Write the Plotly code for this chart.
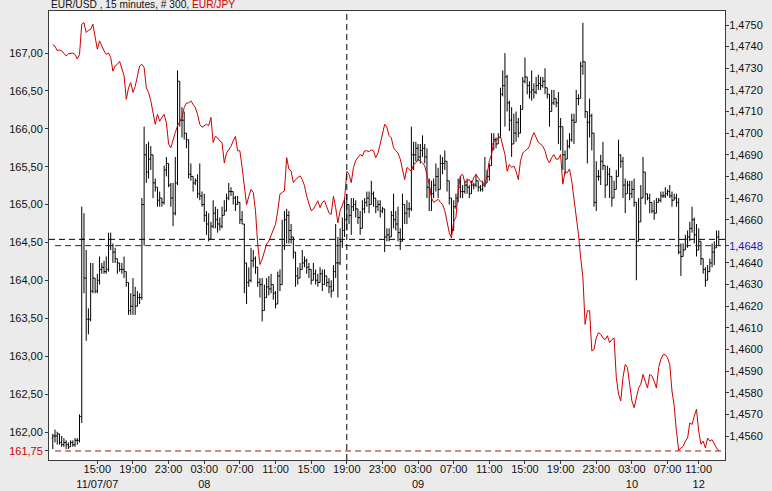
import plotly.graph_objects as go

# ---- EUR/USD 15-minute bars (bar index 0..299) ----
usd_open = [
1.4559,1.4560,1.4560,1.4561,1.4557,1.4556,1.4557,1.4556,1.4555,1.4557,
1.4556,1.4558,1.4558,1.4569,1.4651,1.4633,1.4614,1.4614,1.4627,1.4633,
1.4627,1.4632,1.4637,1.4638,1.4636,1.4637,1.4648,1.4648,1.4645,1.4642,
1.4640,1.4637,1.4637,1.4636,1.4631,1.4618,1.4620,1.4625,1.4620,1.4624,
1.4624,1.4667,1.4690,1.4682,1.4688,1.4690,1.4677,1.4675,1.4669,1.4670,
1.4668,1.4683,1.4686,1.4676,1.4670,1.4663,1.4677,1.4724,1.4706,1.4706,
1.4700,1.4697,1.4681,1.4680,1.4677,1.4678,1.4672,1.4671,1.4667,1.4662,
1.4658,1.4651,1.4657,1.4663,1.4660,1.4658,1.4657,1.4662,1.4664,1.4670,
1.4673,1.4673,1.4670,1.4667,1.4668,1.4660,1.4658,1.4640,1.4631,1.4632,
1.4641,1.4642,1.4638,1.4631,1.4630,1.4618,1.4624,1.4629,1.4628,1.4630,
1.4626,1.4621,1.4634,1.4630,1.4648,1.4660,1.4662,1.4655,1.4652,1.4645,
1.4634,1.4633,1.4637,1.4640,1.4641,1.4638,1.4637,1.4632,1.4635,1.4632,
1.4631,1.4635,1.4630,1.4634,1.4631,1.4629,1.4627,1.4636,1.4640,1.4640,
1.4650,1.4655,1.4660,1.4667,1.4662,1.4666,1.4667,1.4665,1.4661,1.4656,
1.4665,1.4668,1.4670,1.4667,1.4672,1.4670,1.4666,1.4667,1.4664,1.4665,
1.4652,1.4653,1.4652,1.4662,1.4660,1.4658,1.4654,1.4650,1.4667,1.4663,
1.4665,1.4665,1.4690,1.4690,1.4693,1.4689,1.4692,1.4693,1.4689,1.4675,
1.4674,1.4672,1.4676,1.4680,1.4674,1.4686,1.4686,1.4687,1.4678,1.4670,
1.4655,1.4666,1.4670,1.4675,1.4673,1.4673,1.4676,1.4675,1.4672,1.4676,
1.4676,1.4678,1.4675,1.4674,1.4676,1.4677,1.4680,1.4685,1.4695,1.4697,
1.4695,1.4698,1.4718,1.4722,1.4726,1.4714,1.4706,1.4695,1.4700,1.4705,
1.4700,1.4711,1.4724,1.4726,1.4722,1.4719,1.4720,1.4719,1.4722,1.4723,
1.4722,1.4724,1.4721,1.4718,1.4710,1.4714,1.4716,1.4714,1.4703,1.4703,
1.4690,1.4688,1.4694,1.4697,1.4706,1.4705,1.4716,1.4716,1.4731,1.4733,
1.4710,1.4705,1.4708,1.4700,1.4668,1.4680,1.4680,1.4687,1.4685,1.4676,
1.4681,1.4680,1.4670,1.4674,1.4680,1.4690,1.4687,1.4676,1.4672,1.4676,
1.4672,1.4674,1.4668,1.4650,1.4659,1.4670,1.4682,1.4672,1.4670,1.4668,
1.4664,1.4663,1.4668,1.4669,1.4671,1.4671,1.4672,1.4673,1.4671,1.4669,
1.4670,1.4668,1.4645,1.4643,1.4646,1.4651,1.4652,1.4656,1.4660,1.4653,
1.4646,1.4650,1.4642,1.4637,1.4632,1.4636,1.4640,1.4645,1.4647,1.4652]
usd_high = [
1.4561,1.4563,1.4562,1.4561,1.4560,1.4559,1.4558,1.4557,1.4558,1.4558,
1.4559,1.4559,1.4570,1.4666,1.4663,1.4646,1.4619,1.4640,1.4640,1.4633,
1.4635,1.4643,1.4640,1.4641,1.4643,1.4654,1.4654,1.4649,1.4647,1.4642,
1.4640,1.4640,1.4643,1.4636,1.4631,1.4626,1.4633,1.4629,1.4627,1.4626,
1.4670,1.4703,1.4695,1.4696,1.4694,1.4690,1.4679,1.4675,1.4673,1.4670,
1.4685,1.4689,1.4686,1.4677,1.4677,1.4689,1.4729,1.4724,1.4712,1.4710,
1.4700,1.4697,1.4686,1.4680,1.4679,1.4681,1.4686,1.4673,1.4672,1.4664,
1.4663,1.4659,1.4669,1.4666,1.4665,1.4661,1.4666,1.4669,1.4672,1.4677,
1.4675,1.4673,1.4671,1.4671,1.4668,1.4664,1.4658,1.4640,1.4638,1.4647,
1.4646,1.4643,1.4638,1.4633,1.4633,1.4630,1.4633,1.4634,1.4635,1.4630,
1.4627,1.4636,1.4637,1.4660,1.4664,1.4665,1.4664,1.4658,1.4652,1.4645,
1.4638,1.4640,1.4646,1.4643,1.4642,1.4640,1.4637,1.4640,1.4637,1.4635,
1.4638,1.4637,1.4637,1.4634,1.4633,1.4632,1.4639,1.4658,1.4652,1.4656,
1.4661,1.4670,1.4672,1.4667,1.4670,1.4670,1.4669,1.4665,1.4664,1.4669,
1.4670,1.4673,1.4673,1.4678,1.4673,1.4670,1.4669,1.4669,1.4666,1.4665,
1.4656,1.4656,1.4664,1.4672,1.4664,1.4666,1.4656,1.4672,1.4667,1.4669,
1.4668,1.4703,1.4696,1.4696,1.4695,1.4695,1.4699,1.4695,1.4693,1.4679,
1.4678,1.4679,1.4686,1.4684,1.4690,1.4689,1.4692,1.4687,1.4678,1.4670,
1.4669,1.4672,1.4679,1.4680,1.4676,1.4678,1.4679,1.4676,1.4678,1.4677,
1.4681,1.4678,1.4676,1.4678,1.4689,1.4683,1.4686,1.4700,1.4700,1.4698,
1.4700,1.4721,1.4729,1.4737,1.4727,1.4715,1.4712,1.4709,1.4710,1.4707,
1.4713,1.4726,1.4735,1.4726,1.4724,1.4729,1.4723,1.4726,1.4727,1.4726,
1.4726,1.4730,1.4721,1.4718,1.4720,1.4720,1.4716,1.4719,1.4707,1.4703,
1.4692,1.4697,1.4700,1.4709,1.4709,1.4720,1.4718,1.4733,1.4751,1.4733,
1.4710,1.4716,1.4709,1.4700,1.4687,1.4683,1.4690,1.4696,1.4685,1.4685,
1.4684,1.4680,1.4678,1.4683,1.4697,1.4690,1.4689,1.4679,1.4678,1.4678,
1.4678,1.4679,1.4668,1.4670,1.4676,1.4689,1.4682,1.4672,1.4672,1.4668,
1.4669,1.4670,1.4670,1.4673,1.4673,1.4675,1.4674,1.4676,1.4673,1.4672,
1.4672,1.4670,1.4649,1.4649,1.4653,1.4655,1.4659,1.4666,1.4661,1.4658,
1.4656,1.4650,1.4642,1.4638,1.4639,1.4642,1.4649,1.4650,1.4655,1.4655]
usd_low = [
1.4554,1.4557,1.4556,1.4556,1.4555,1.4555,1.4554,1.4554,1.4555,1.4555,
1.4555,1.4556,1.4557,1.4566,1.4626,1.4604,1.4607,1.4613,1.4626,1.4626,
1.4626,1.4630,1.4635,1.4635,1.4635,1.4636,1.4646,1.4640,1.4640,1.4635,
1.4636,1.4635,1.4633,1.4629,1.4616,1.4616,1.4616,1.4616,1.4620,1.4621,
1.4623,1.4648,1.4677,1.4679,1.4683,1.4670,1.4673,1.4666,1.4666,1.4666,
1.4667,1.4680,1.4675,1.4666,1.4657,1.4662,1.4676,1.4703,1.4698,1.4697,
1.4693,1.4679,1.4678,1.4673,1.4676,1.4670,1.4669,1.4666,1.4659,1.4653,
1.4650,1.4651,1.4656,1.4656,1.4654,1.4655,1.4656,1.4662,1.4664,1.4669,
1.4671,1.4667,1.4664,1.4667,1.4658,1.4658,1.4626,1.4621,1.4629,1.4631,
1.4638,1.4635,1.4629,1.4624,1.4613,1.4618,1.4624,1.4625,1.4626,1.4623,
1.4619,1.4621,1.4627,1.4630,1.4646,1.4649,1.4649,1.4649,1.4642,1.4629,
1.4630,1.4633,1.4637,1.4638,1.4635,1.4633,1.4630,1.4632,1.4630,1.4629,
1.4631,1.4627,1.4630,1.4629,1.4626,1.4624,1.4627,1.4633,1.4624,1.4639,
1.4647,1.4652,1.4655,1.4658,1.4653,1.4664,1.4661,1.4658,1.4653,1.4656,
1.4663,1.4666,1.4663,1.4667,1.4666,1.4663,1.4664,1.4661,1.4663,1.4645,
1.4650,1.4650,1.4652,1.4656,1.4655,1.4650,1.4646,1.4650,1.4658,1.4658,
1.4661,1.4664,1.4683,1.4687,1.4687,1.4686,1.4689,1.4686,1.4670,1.4664,
1.4664,1.4670,1.4673,1.4670,1.4674,1.4681,1.4683,1.4673,1.4667,1.4653,
1.4655,1.4665,1.4668,1.4670,1.4670,1.4672,1.4672,1.4670,1.4672,1.4674,
1.4675,1.4673,1.4673,1.4673,1.4675,1.4677,1.4678,1.4685,1.4692,1.4693,
1.4695,1.4698,1.4717,1.4703,1.4710,1.4701,1.4689,1.4695,1.4696,1.4698,
1.4700,1.4711,1.4723,1.4718,1.4716,1.4715,1.4716,1.4718,1.4720,1.4720,
1.4721,1.4718,1.4716,1.4703,1.4710,1.4713,1.4712,1.4695,1.4692,1.4683,
1.4681,1.4688,1.4693,1.4696,1.4695,1.4705,1.4713,1.4716,1.4727,1.4707,
1.4686,1.4698,1.4692,1.4666,1.4664,1.4678,1.4676,1.4683,1.4670,1.4676,
1.4670,1.4666,1.4670,1.4674,1.4680,1.4684,1.4670,1.4663,1.4672,1.4669,
1.4670,1.4666,1.4632,1.4650,1.4659,1.4670,1.4667,1.4669,1.4663,1.4663,
1.4660,1.4663,1.4668,1.4668,1.4670,1.4670,1.4671,1.4670,1.4666,1.4669,
1.4666,1.4644,1.4634,1.4643,1.4646,1.4647,1.4650,1.4654,1.4649,1.4643,
1.4646,1.4639,1.4635,1.4629,1.4632,1.4636,1.4638,1.4639,1.4647,1.4648]
usd_close = [
1.4560,1.4560,1.4561,1.4557,1.4556,1.4557,1.4556,1.4555,1.4557,1.4556,
1.4558,1.4558,1.4569,1.4651,1.4633,1.4614,1.4614,1.4627,1.4633,1.4627,
1.4632,1.4637,1.4638,1.4636,1.4637,1.4648,1.4648,1.4645,1.4642,1.4640,
1.4637,1.4637,1.4636,1.4631,1.4618,1.4620,1.4625,1.4620,1.4624,1.4624,
1.4667,1.4690,1.4682,1.4688,1.4690,1.4677,1.4675,1.4669,1.4670,1.4668,
1.4683,1.4686,1.4676,1.4670,1.4663,1.4677,1.4724,1.4706,1.4706,1.4700,
1.4697,1.4681,1.4680,1.4677,1.4678,1.4672,1.4671,1.4667,1.4662,1.4658,
1.4651,1.4657,1.4663,1.4660,1.4658,1.4657,1.4662,1.4664,1.4670,1.4673,
1.4673,1.4670,1.4667,1.4668,1.4660,1.4658,1.4640,1.4631,1.4632,1.4641,
1.4642,1.4638,1.4631,1.4630,1.4618,1.4624,1.4629,1.4628,1.4630,1.4626,
1.4621,1.4634,1.4630,1.4648,1.4660,1.4662,1.4655,1.4652,1.4645,1.4634,
1.4633,1.4637,1.4640,1.4641,1.4638,1.4637,1.4632,1.4635,1.4632,1.4631,
1.4635,1.4630,1.4634,1.4631,1.4629,1.4627,1.4636,1.4640,1.4640,1.4650,
1.4655,1.4660,1.4667,1.4662,1.4666,1.4667,1.4665,1.4661,1.4656,1.4665,
1.4668,1.4670,1.4667,1.4672,1.4670,1.4666,1.4667,1.4664,1.4665,1.4652,
1.4653,1.4652,1.4662,1.4660,1.4658,1.4654,1.4650,1.4667,1.4663,1.4665,
1.4665,1.4690,1.4690,1.4693,1.4689,1.4692,1.4693,1.4689,1.4675,1.4674,
1.4672,1.4676,1.4680,1.4674,1.4686,1.4686,1.4687,1.4678,1.4670,1.4655,
1.4666,1.4670,1.4675,1.4673,1.4673,1.4676,1.4675,1.4672,1.4676,1.4676,
1.4678,1.4675,1.4674,1.4676,1.4677,1.4680,1.4685,1.4695,1.4697,1.4695,
1.4698,1.4718,1.4722,1.4726,1.4714,1.4706,1.4695,1.4700,1.4705,1.4700,
1.4711,1.4724,1.4726,1.4722,1.4719,1.4720,1.4719,1.4722,1.4723,1.4722,
1.4724,1.4721,1.4718,1.4710,1.4714,1.4716,1.4714,1.4703,1.4703,1.4690,
1.4688,1.4694,1.4697,1.4706,1.4705,1.4716,1.4716,1.4731,1.4733,1.4710,
1.4705,1.4708,1.4700,1.4668,1.4680,1.4680,1.4687,1.4685,1.4676,1.4681,
1.4680,1.4670,1.4674,1.4680,1.4690,1.4687,1.4676,1.4672,1.4676,1.4672,
1.4674,1.4668,1.4650,1.4659,1.4670,1.4682,1.4672,1.4670,1.4668,1.4664,
1.4663,1.4668,1.4669,1.4671,1.4671,1.4672,1.4673,1.4671,1.4669,1.4670,
1.4668,1.4645,1.4643,1.4646,1.4651,1.4652,1.4656,1.4660,1.4653,1.4646,
1.4650,1.4642,1.4637,1.4632,1.4636,1.4640,1.4645,1.4647,1.4652,1.4648]

# ---- EUR/JPY close on the same bars ----
jpy_close = [
167.11,167.09,167.03,167.04,167.03,166.99,166.96,166.99,167.00,167.00,
166.98,166.92,166.98,167.38,167.40,167.27,167.30,167.31,167.38,167.20,
167.05,167.16,167.09,167.03,166.98,167.00,166.94,166.76,166.83,166.85,
166.89,166.78,166.70,166.39,166.54,166.61,166.48,166.56,166.70,166.83,
166.85,166.81,166.54,166.48,166.37,166.23,166.06,166.19,166.10,166.15,
166.19,166.08,165.80,165.75,165.86,165.95,166.04,166.10,166.15,166.28,
166.34,166.34,166.37,166.32,166.28,166.19,166.06,166.02,166.04,166.06,
166.04,166.15,165.82,165.90,165.88,165.84,165.82,165.55,165.68,165.73,
165.77,165.84,165.90,165.71,165.71,165.49,165.27,165.00,165.11,165.20,
165.16,164.92,164.48,164.21,164.28,164.39,164.48,164.52,164.59,164.65,
164.74,164.92,165.14,165.16,165.18,165.62,165.47,165.44,165.29,165.33,
165.36,165.38,165.33,165.25,165.11,165.00,164.92,164.94,165.00,165.05,
164.96,165.03,165.05,164.96,164.89,164.87,165.11,164.96,164.76,164.92,
165.00,165.07,165.44,165.40,165.29,165.49,165.58,165.62,165.66,165.64,
165.71,165.71,165.70,165.72,165.71,165.62,165.68,165.80,165.93,166.06,
166.02,165.91,165.88,165.75,165.71,165.68,165.60,165.44,165.33,165.49,
165.47,165.44,165.53,165.55,165.60,165.58,165.55,165.51,165.40,165.27,
165.09,165.03,165.05,165.07,165.03,165.00,164.92,164.78,164.63,164.56,
164.78,164.83,165.18,165.38,165.40,165.29,165.31,165.33,165.27,165.36,
165.40,165.36,165.31,165.29,165.25,165.40,165.58,165.66,165.84,165.84,
165.88,165.90,165.77,165.66,165.44,165.53,165.49,165.51,165.44,165.33,
165.58,165.68,165.71,165.73,165.77,165.88,165.95,165.88,165.82,165.80,
165.77,165.71,165.60,165.55,165.62,165.66,165.60,165.60,165.66,165.27,
165.44,165.42,165.47,165.31,165.09,164.83,164.61,164.30,164.04,163.42,
163.60,163.60,163.07,163.09,163.24,163.31,163.29,163.24,163.22,163.27,
163.18,163.22,163.24,162.72,162.50,162.41,162.72,162.89,162.85,162.63,
162.41,162.32,162.45,162.58,162.63,162.76,162.67,162.58,162.76,162.74,
162.67,162.58,162.85,162.96,163.02,163.02,162.98,162.89,162.54,162.34,
162.01,161.76,161.79,161.81,161.88,161.92,162.12,162.10,162.21,162.30,
162.01,161.84,161.88,161.79,161.92,161.88,161.90,161.84,161.79,161.75]

bar_index = list(range(len(usd_close)))

# ---- axis labels ----
x_tick_pos = [20, 36, 52, 68, 84, 100, 116, 132, 148, 164, 180, 196, 212, 228, 244, 260, 276, 290]
x_tick_text = ["15:00<br>11/07/07", "19:00", "23:00", "03:00<br>08", "07:00", "11:00", "15:00",
               "19:00", "23:00", "03:00<br>09", "07:00", "11:00", "15:00", "19:00", "23:00",
               "03:00<br>10", "07:00", "11:00<br>12"]
jpy_ticks = [162.0, 162.5, 163.0, 163.5, 164.0, 164.5, 165.0, 165.5, 166.0, 166.5, 167.0]
usd_ticks = [1.4560, 1.4570, 1.4580, 1.4590, 1.4600, 1.4610, 1.4620, 1.4630, 1.4640,
             1.4660, 1.4670, 1.4680, 1.4690, 1.4700, 1.4710, 1.4720, 1.4730, 1.4740, 1.4750]
jpy_last = 161.75
usd_last = 1.4648
cursor_usd = 1.46509
cursor_bar = 132

RED = "#cc0000"
BLUE = "#1a1aa6"
FONT = "Liberation Sans, Arial, sans-serif"

def comma(v, d):
    return f"{v:.{d}f}".replace(".", ",")

jpy_tv = [jpy_last] + jpy_ticks
jpy_tt = [f"<span style='color:{RED}'>{comma(jpy_last, 2)}</span>"] + [comma(v, 2) for v in jpy_ticks]
usd_tv = usd_ticks + [usd_last]
usd_tt = [comma(v, 4) for v in usd_ticks] + [f"<span style='color:{BLUE}'>{comma(usd_last, 4)}</span>"]

fig = go.Figure()
fig.add_trace(go.Ohlc(
    x=bar_index, open=usd_open, high=usd_high, low=usd_low, close=usd_close,
    yaxis="y", increasing=dict(line=dict(color="black", width=1)),
    decreasing=dict(line=dict(color="black", width=1)),
    tickwidth=0.5, hoverinfo="skip", showlegend=False))
fig.add_trace(go.Scatter(
    x=bar_index, y=jpy_close, yaxis="y2", mode="lines",
    line=dict(color=RED, width=1), hoverinfo="skip", showlegend=False))

shapes = [
    dict(type="line", xref="paper", yref="y2", x0=0.009, x1=1, y0=jpy_last, y1=jpy_last,
         line=dict(color="#a01010", width=1, dash="6px,4px"), layer="above"),
    dict(type="line", xref="paper", yref="y", x0=0.009, x1=1, y0=usd_last, y1=usd_last,
         line=dict(color=BLUE, width=1, dash="6px,4px"), layer="above"),
    dict(type="line", xref="paper", yref="y", x0=0, x1=1, y0=cursor_usd, y1=cursor_usd,
         line=dict(color="black", width=1, dash="6px,4px"), layer="above"),
    dict(type="line", xref="x", yref="paper", x0=cursor_bar, x1=cursor_bar, y0=0, y1=1,
         line=dict(color="black", width=1, dash="6px,4px"), layer="above"),
]

axis_common = dict(showgrid=False, zeroline=False, showline=True, linecolor="#3a3a3a",
                   ticks="outside", ticklen=3, tickcolor="#3a3a3a", automargin=False)

fig.update_layout(
    width=772, height=491,
    margin=dict(l=49, r=47, t=11, b=31, autoexpand=False),
    paper_bgcolor="#ebebeb", plot_bgcolor="white",
    font=dict(family=FONT, size=11, color="#111"),
    showlegend=False,
    xaxis=dict(range=[-1.7, 301.8], tickvals=x_tick_pos, ticktext=x_tick_text,
               tickangle=0, mirror=True, rangeslider=dict(visible=False),
               ticklabelstandoff=-4, **axis_common),
    yaxis=dict(side="right", range=[1.454891, 1.475647], tickvals=usd_tv, ticktext=usd_tt,
               ticklabelstandoff=-2, **axis_common),
    yaxis2=dict(side="left", overlaying="y", range=[161.631, 167.554],
                tickvals=jpy_tv, ticktext=jpy_tt, **axis_common),
    shapes=shapes,
    annotations=[dict(
        xref="paper", yref="paper", x=0, y=1.0134, xanchor="left", yanchor="middle",
        showarrow=False, font=dict(size=10.2, color="#111", family=FONT),
        text=f"EUR/USD , 15 minutes, # 300, <span style='color:{RED}'>EUR/JPY</span>")],
)

fig.write_html("out.html", config={"displayModeBar": False},
               post_script="document.body.style.margin='0';")
